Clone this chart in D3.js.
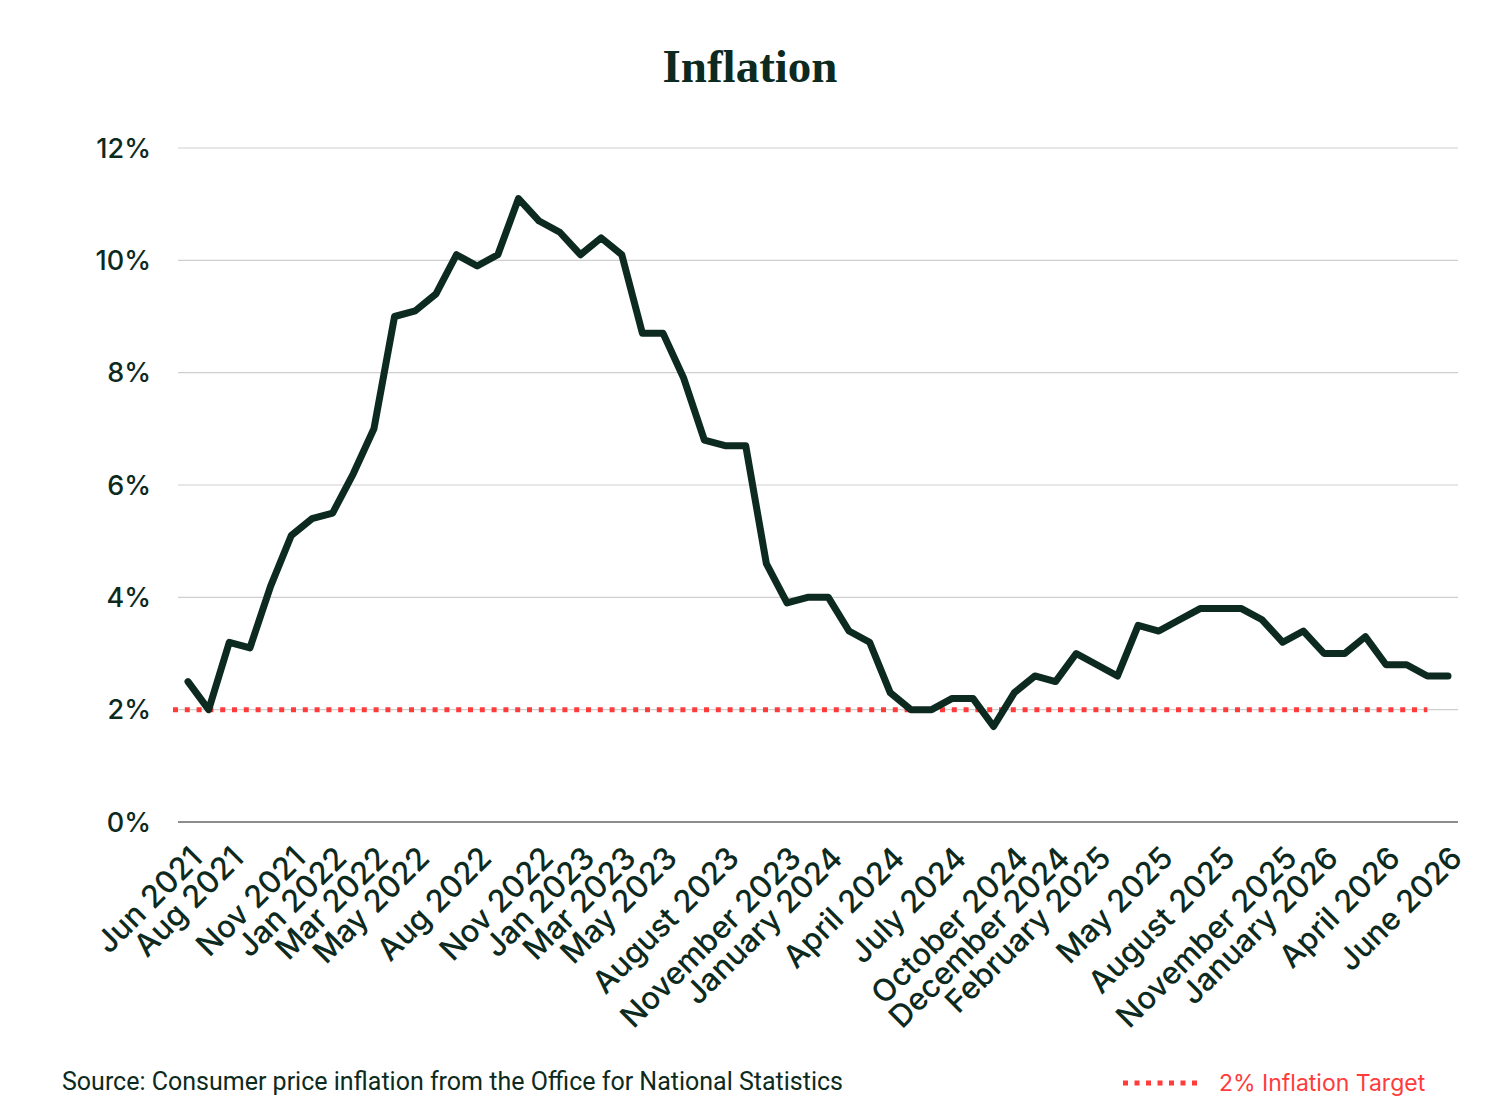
<!DOCTYPE html>
<html>
<head>
<meta charset="utf-8">
<script src="https://cdn.jsdelivr.net/npm/d3@7"></script>
<style>
  body { margin: 0; background: #fff; }
  svg { display: block; }
  .tick-label { font-family: Inter, "Open Sans", sans-serif; fill: #0d2a20; font-weight: 500; }
</style>
</head>
<body>
<svg width="1500" height="1112"></svg>
<script>
// Monthly CPI inflation (%), Jun 2021 onwards
const inflation = [
  2.5, 2.0, 3.2, 3.1, 4.2, 5.1, 5.4, 5.5, 6.2, 7.0, 9.0, 9.1,
  9.4, 10.1, 9.9, 10.1, 11.1, 10.7, 10.5, 10.1, 10.4, 10.1, 8.7, 8.7,
  7.9, 6.8, 6.7, 6.7, 4.6, 3.9, 4.0, 4.0, 3.4, 3.2, 2.3, 2.0,
  2.0, 2.2, 2.2, 1.7, 2.3, 2.6, 2.5, 3.0, 2.8, 2.6, 3.5, 3.4,
  3.6, 3.8, 3.8, 3.8, 3.6, 3.2, 3.4, 3.0, 3.0, 3.3, 2.8, 2.8,
  2.6, 2.6
];

// Category labels shown on the x axis ("" = no label)
const xLabels = [
  "Jun 2021", "", "Aug 2021", "", "", "Nov 2021", "", "Jan 2022", "", "Mar 2022", "", "May 2022",
  "", "", "Aug 2022", "", "", "Nov 2022", "", "Jan 2023", "", "Mar 2023", "", "May 2023",
  "", "", "August 2023", "", "", "November 2023", "", "January 2024", "", "", "April 2024", "",
  "", "July 2024", "", "", "October 2024", "", "December 2024", "", "February 2025", "", "", "May 2025",
  "", "", "August 2025", "", "", "November 2025", "", "January 2026", "", "", "April 2026", "",
  "", "June 2026"
];

const yTicks = [0, 2, 4, 6, 8, 10, 12];
const target = 2;
const targetLastIndex = 60;

const svg = d3.select('svg');
const ink = '#0d2a20';
const red = '#ff3b3b';

const x = d3.scalePoint()
  .domain(d3.range(inflation.length))
  .range([188, 1448]);
const y = d3.scaleLinear()
  .domain([0, 12])
  .range([822, 148]);

// title
svg.append('text')
  .attr('x', 750).attr('y', 82)
  .attr('text-anchor', 'middle')
  .style('font-family', '"Liberation Serif", "DejaVu Serif", serif')
  .style('font-weight', 'bold')
  .style('font-size', '47px')
  .style('fill', ink)
  .text('Inflation');

// gridlines
svg.append('g')
  .selectAll('line')
  .data(yTicks)
  .join('line')
  .attr('x1', 178).attr('x2', 1458)
  .attr('y1', d => y(d)).attr('y2', d => y(d))
  .attr('stroke', d => d === 0 ? '#8c8c8c' : '#cfcfcf')
  .attr('stroke-width', d => d === 0 ? 2 : 1.2);

// y labels
svg.append('g')
  .selectAll('text')
  .data(yTicks)
  .join('text')
  .attr('class', 'tick-label')
  .attr('x', 151)
  .attr('y', d => y(d))
  .attr('dy', '0.36em')
  .attr('text-anchor', 'end')
  .style('font-size', '27px')
  .text(d => d + '%');

// x labels, rotated
svg.append('g')
  .selectAll('text')
  .data(d3.range(xLabels.length).filter(i => xLabels[i] !== ''))
  .join('text')
  .attr('class', 'tick-label')
  .attr('text-anchor', 'end')
  .attr('transform', i => `translate(${x(i) + 16}, 860) rotate(-45)`)
  .style('font-size', '31px')
  .text(i => xLabels[i]);

// 2% target line
svg.append('line')
  .attr('x1', x(0) - 15)
  .attr('x2', x(targetLastIndex))
  .attr('y1', y(target)).attr('y2', y(target))
  .attr('stroke', red)
  .attr('stroke-width', 5)
  .attr('stroke-dasharray', '5 6.8');

// inflation line
const line = d3.line()
  .x((d, i) => x(i))
  .y(d => y(d));
svg.append('path')
  .datum(inflation)
  .attr('d', line)
  .attr('fill', 'none')
  .attr('stroke', ink)
  .attr('stroke-width', 7)
  .attr('stroke-linejoin', 'round')
  .attr('stroke-linecap', 'round');

// source
svg.append('text')
  .attr('x', 62).attr('y', 1090)
  .style('font-family', 'Roboto, "Liberation Sans", sans-serif')
  .style('font-size', '25px')
  .style('fill', ink)
  .text('Source: Consumer price inflation from the Office for National Statistics');

// legend
svg.append('line')
  .attr('x1', 1123).attr('x2', 1200)
  .attr('y1', 1083).attr('y2', 1083)
  .attr('stroke', red)
  .attr('stroke-width', 5)
  .attr('stroke-dasharray', '5 6.5');
svg.append('text')
  .attr('x', 1219).attr('y', 1091)
  .style('font-family', 'Inter, "Open Sans", sans-serif')
  .style('font-size', '23px')
  .style('fill', red)
  .text('2% Inflation Target');
</script>
</body>
</html>
